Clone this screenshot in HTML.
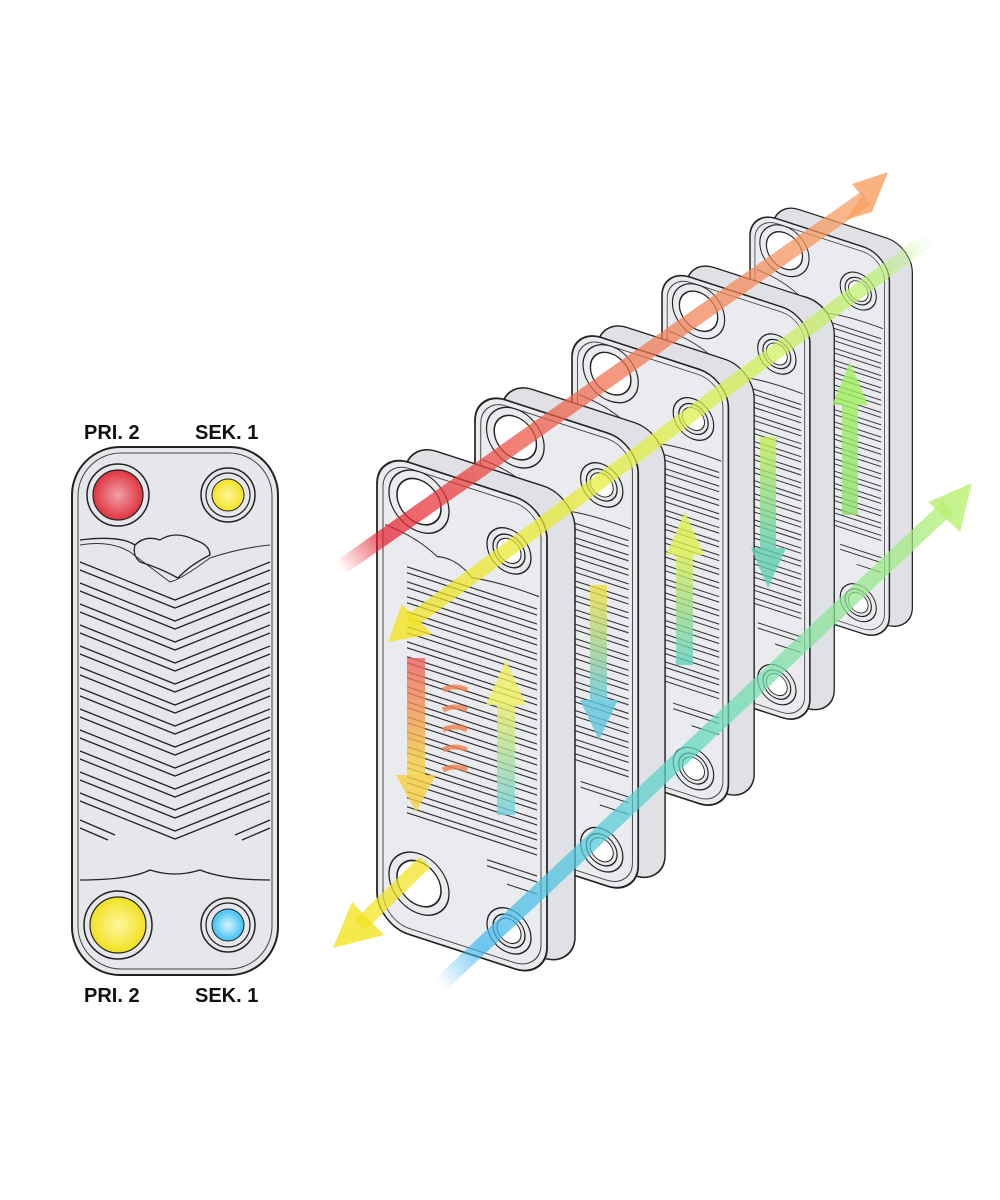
<!DOCTYPE html>
<html><head><meta charset="utf-8"><style>
body{margin:0;background:#fff}
svg{display:block}
text{font-family:"Liberation Sans",sans-serif;font-weight:bold;font-size:20px;fill:#111}
</style></head><body>
<svg width="1000" height="1200" viewBox="0 0 1000 1200">
<defs>
<radialGradient id="rg" cx="50%" cy="50%" r="50%"><stop offset="0" stop-color="#f0a0a8"/><stop offset="1" stop-color="#e0343e"/></radialGradient>
<radialGradient id="yg" cx="50%" cy="50%" r="50%"><stop offset="0" stop-color="#fff7a0"/><stop offset="1" stop-color="#f2e020"/></radialGradient>
<radialGradient id="bg" cx="50%" cy="50%" r="50%"><stop offset="0" stop-color="#d8f4ff"/><stop offset="1" stop-color="#3cc0f0"/></radialGradient>
<linearGradient id="redL" gradientUnits="userSpaceOnUse" x1="340" y1="568" x2="870" y2="195"><stop offset="0" stop-color="#e82030" stop-opacity="0"/><stop offset=".08" stop-color="#e82030"/><stop offset=".5" stop-color="#f07050"/><stop offset="1" stop-color="#f8a060"/></linearGradient>
<linearGradient id="greenL" gradientUnits="userSpaceOnUse" x1="930" y1="238" x2="410" y2="622"><stop offset="0" stop-color="#c0f080" stop-opacity="0"/><stop offset=".1" stop-color="#b8f070"/><stop offset=".5" stop-color="#e0f040"/><stop offset="1" stop-color="#f2e420"/></linearGradient>
<linearGradient id="blueL" gradientUnits="userSpaceOnUse" x1="440" y1="985" x2="950" y2="505"><stop offset="0" stop-color="#40b8f0" stop-opacity="0"/><stop offset=".08" stop-color="#40b8f0"/><stop offset=".5" stop-color="#60d8c0"/><stop offset="1" stop-color="#b0f070"/></linearGradient>
<linearGradient id="odown" x1="0" y1="0" x2="0" y2="1"><stop offset="0" stop-color="#f06060"/><stop offset="1" stop-color="#f8e040"/></linearGradient>
<linearGradient id="up1" x1="0" y1="1" x2="0" y2="0"><stop offset="0" stop-color="#70d0e0"/><stop offset="1" stop-color="#f0f060"/></linearGradient>
<linearGradient id="down2" x1="0" y1="0" x2="0" y2="1"><stop offset="0" stop-color="#f0e040"/><stop offset="1" stop-color="#60c8e0"/></linearGradient>
<linearGradient id="up3" x1="0" y1="1" x2="0" y2="0"><stop offset="0" stop-color="#60d0c0"/><stop offset="1" stop-color="#e0f050"/></linearGradient>
<linearGradient id="down4" x1="0" y1="0" x2="0" y2="1"><stop offset="0" stop-color="#c8f050"/><stop offset="1" stop-color="#60d0b0"/></linearGradient>
<linearGradient id="up5" x1="0" y1="1" x2="0" y2="0"><stop offset="0" stop-color="#90e070"/><stop offset="1" stop-color="#a0f060"/></linearGradient>
<g id="plate">
 <g transform="skewY(18)">
  <rect x="28" y="-20" width="170" height="472" rx="32" fill="#dfe1e5" stroke="#222" stroke-width="1.5"/>
  <rect x="0" y="0" width="170" height="472" rx="32" fill="#eaebee" stroke="#222" stroke-width="1.8"/>
  <rect x="6" y="6" width="158" height="460" rx="27" fill="none" stroke="#444" stroke-width="1"/>
  <circle cx="42" cy="36" r="30" fill="none" stroke="#222" stroke-width="1.3"/>
  <circle cx="42" cy="36" r="22" fill="#fff" stroke="#222" stroke-width="1.5"/>
  <circle cx="132" cy="56" r="22" fill="none" stroke="#222" stroke-width="1.3"/>
  <circle cx="132" cy="56" r="16" fill="#e8e9ec" stroke="#222" stroke-width="1.3"/>
  <circle cx="132" cy="56" r="12" fill="#fff" stroke="#222" stroke-width="1"/>
  <circle cx="42" cy="418" r="30" fill="none" stroke="#222" stroke-width="1.3"/>
  <circle cx="42" cy="418" r="22" fill="#fff" stroke="#222" stroke-width="1.5"/>
  <circle cx="132" cy="436" r="22" fill="none" stroke="#222" stroke-width="1.3"/>
  <circle cx="132" cy="436" r="16" fill="#e8e9ec" stroke="#222" stroke-width="1.3"/>
  <circle cx="132" cy="436" r="12" fill="#fff" stroke="#222" stroke-width="1"/>
  <path d="M8 70 Q40 72 60 85 Q80 80 95 95 Q120 90 162 92" fill="none" stroke="#333" stroke-width="1.2"/>
  <g stroke="#333" stroke-width="1.2" fill="none">
   <path d="M30 105h130M30 111h130M30 120h130M30 126h130M30 135h130M30 141h130M30 150h130M30 156h130M30 165h130M30 171h130M30 180h130M30 186h130M30 195h130M30 201h130M30 210h130M30 216h130M30 225h130M30 231h130M30 240h130M30 246h130M30 255h130M30 261h130M30 270h130M30 276h130M30 285h130M30 291h130M30 300h130M30 306h130M30 315h130M30 321h130M30 330h130M30 336h130M30 345h130M30 351h130"/>
   <path d="M110 372h50M110 378h50M130 390h30"/>
  </g>
 </g>
</g>
</defs>

<use href="#plate" transform="translate(750,210) scale(0.82)"/>
<use href="#plate" transform="translate(662,268) scale(0.87)"/>
<use href="#plate" transform="translate(572,328) scale(0.92)"/>
<use href="#plate" transform="translate(475,390) scale(0.96)"/>
<use href="#plate" transform="translate(377,452) scale(1)"/>

<!-- flow arrows over -->
<g opacity="0.72" fill="none">
 <line x1="340" y1="568" x2="866" y2="198" stroke="url(#redL)" stroke-width="16"/>
 <line x1="930" y1="238" x2="410" y2="622" stroke="url(#greenL)" stroke-width="15"/>
 <line x1="440" y1="985" x2="948" y2="507" stroke="url(#blueL)" stroke-width="16"/>
 <line x1="425" y1="862" x2="360" y2="925" stroke="#f2e420" stroke-width="15"/>
</g>
<g opacity="0.8">
 <polygon points="888,172 872,212 845,220 862,196 852,184" fill="#f8a060"/>
 <polygon points="388,642 432,634 402,604" fill="#f2e420"/>
 <polygon points="333,948 384,935 352,902" fill="#f2e420"/>
 <polygon points="972,483 960,532 928,502" fill="#b8f070"/>
 <rect x="407" y="658" width="18" height="122" fill="url(#odown)"/>
 <polygon points="396,775 436,775 416,812" fill="#f8d040"/>
 <rect x="497" y="700" width="18" height="115" fill="url(#up1)"/>
 <polygon points="486,705 526,705 506,660" fill="#f0f060"/>
 <rect x="590" y="585" width="17" height="120" fill="url(#down2)"/>
 <polygon points="580,700 618,700 599,740" fill="#60c8e0"/>
 <rect x="676" y="550" width="17" height="115" fill="url(#up3)"/>
 <polygon points="666,555 704,555 685,512" fill="#e0f050"/>
 <rect x="760" y="437" width="16" height="115" fill="url(#down4)"/>
 <polygon points="751,548 786,548 768,588" fill="#60d0b0"/>
 <rect x="842" y="400" width="16" height="115" fill="url(#up5)"/>
 <polygon points="832,405 868,405 850,362" fill="#a0f060"/>
 <g stroke="#f08050" stroke-width="5" fill="none">
  <path d="M443 690q12 -6 24 0M443 710q12 -6 24 0M443 730q12 -6 24 0M443 750q12 -6 24 0M443 770q12 -6 24 0"/>
 </g>
</g>

<!-- Left plate -->
<rect x="72" y="447" width="206" height="528" rx="48" fill="#e6e7ea" stroke="#222" stroke-width="2"/>
<rect x="78" y="453" width="194" height="516" rx="43" fill="none" stroke="#444" stroke-width="1"/>
<circle cx="118" cy="495" r="31" fill="none" stroke="#222" stroke-width="1.5"/>
<circle cx="118" cy="495" r="25" fill="url(#rg)" stroke="#222" stroke-width="1.2"/>
<circle cx="228" cy="495" r="27" fill="none" stroke="#222" stroke-width="1.5"/>
<circle cx="228" cy="495" r="22" fill="none" stroke="#222" stroke-width="1.2"/>
<circle cx="228" cy="495" r="16" fill="url(#yg)" stroke="#222" stroke-width="1"/>
<circle cx="118" cy="925" r="34" fill="none" stroke="#222" stroke-width="1.5"/>
<circle cx="118" cy="925" r="28" fill="url(#yg)" stroke="#222" stroke-width="1.2"/>
<circle cx="228" cy="925" r="27" fill="none" stroke="#222" stroke-width="1.5"/>
<circle cx="228" cy="925" r="22" fill="none" stroke="#222" stroke-width="1.2"/>
<circle cx="228" cy="925" r="16" fill="url(#bg)" stroke="#222" stroke-width="1"/>
<path d="M80 540 Q120 535 135 545 Q145 535 160 540 Q175 530 195 540 Q210 545 210 555 Q190 565 178 578 Q160 568 140 562 Q132 555 135 545" fill="none" stroke="#222" stroke-width="1.3"/>
<path d="M80 545 Q110 540 130 552 L170 582 Q180 580 210 558 Q240 548 270 545" fill="none" stroke="#333" stroke-width="1"/>
<g stroke="#222" stroke-width="1.3" fill="none">
 <path d="M80 562L175 600L270 562M80 570L175 608L270 570"/>
 <path d="M80 583L175 621L270 583M80 591L175 629L270 591"/>
 <path d="M80 604L175 642L270 604M80 612L175 650L270 612"/>
 <path d="M80 625L175 663L270 625M80 633L175 671L270 633"/>
 <path d="M80 646L175 684L270 646M80 654L175 692L270 654"/>
 <path d="M80 667L175 705L270 667M80 675L175 713L270 675"/>
 <path d="M80 688L175 726L270 688M80 696L175 734L270 696"/>
 <path d="M80 709L175 747L270 709M80 717L175 755L270 717"/>
 <path d="M80 730L175 768L270 730M80 738L175 776L270 738"/>
 <path d="M80 751L175 789L270 751M80 759L175 797L270 759"/>
 <path d="M80 772L175 810L270 772M80 780L175 818L270 780"/>
 <path d="M80 793L175 831L270 793M80 801L175 839L270 801"/>
 <path d="M80 820L115 835M80 828L108 840M270 820L235 835M270 828L242 840"/>
 <path d="M80 880 Q130 880 150 870 Q175 878 200 870 Q225 880 270 880"/>
</g>

<text x="84" y="439">PRI. 2</text>
<text x="195" y="439">SEK. 1</text>
<text x="84" y="1002">PRI. 2</text>
<text x="195" y="1002">SEK. 1</text>
</svg>
</body></html>
